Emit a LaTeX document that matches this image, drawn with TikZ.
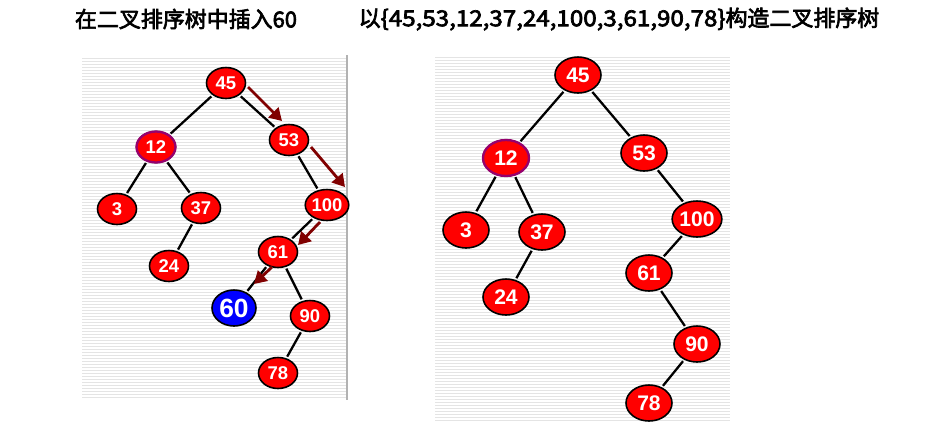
\documentclass[tikz,border=0pt]{standalone}
\usepackage{fontspec}
\setsansfont{Liberation Sans}
\newfontfamily\cjk{Noto Sans CJK SC}[FakeBold=3]
\usetikzlibrary{shapes.geometric, arrows.meta}
\definecolor{keyred}{RGB}{255,0,0}
\definecolor{keyblue}{RGB}{0,0,255}
\definecolor{rootpurple}{RGB}{150,0,110}
\definecolor{pathred}{RGB}{128,0,0}
\definecolor{stripe}{RGB}{228,228,228}
\tikzset{
  smallkey/.style={ellipse, draw=black, line width=0.9pt, fill=keyred, text=white,
    font=\sffamily\bfseries\fontsize{10.5}{10.5}\selectfont,
    minimum width=0.78cm, minimum height=0.62cm, inner sep=0pt},
  bigkey/.style={smallkey, font=\sffamily\bfseries\fontsize{12}{12}\selectfont,
    minimum width=0.92cm, minimum height=0.72cm},
  newkey/.style={smallkey, fill=keyblue, font=\sffamily\bfseries\fontsize{15}{15}\selectfont,
    minimum width=0.88cm, minimum height=0.72cm},
  rootmark/.style={draw=rootpurple, line width=1.3pt},
  treeedge/.style={draw=black, line width=1.3pt, shorten <=1pt, shorten >=1pt},
  searchpath/.style={draw=pathred, line width=1.6pt, -{Triangle[length=7pt, width=8pt]}},
  titletext/.style={font=\cjk\fontsize{12.5}{12.5}\selectfont, inner sep=0pt}
}
\begin{document}
\begin{tikzpicture}[x=0.02cm, y=-0.02cm]
  \useasboundingbox (0,0) rectangle (948,424);
  % striped backgrounds
  \foreach \y in {58,61,...,398}
    \draw[stripe, line width=0.5pt] (82,\y) -- (346,\y);
  \foreach \y in {57,60,...,421}
    \draw[stripe, line width=0.5pt] (435,\y) -- (730,\y);
  \draw[gray!60, line width=1pt] (347,55) -- (347,400);

  % titles
  \node[titletext] (lefttitle) at (186,19) {在二叉排序树中插入60};
  \node[titletext] (righttitle) at (619,19)
    {以\scalebox{1.1}[1]{\{45,53,12,37,24,100,3,61,90,78\}}构造二叉排序树};

  % left tree: insert 60
  \foreach \k/\x/\y in {45/226/83, 12/156/147, 53/289/140, 3/117/209, 37/201/208,
                        100/327/205, 24/169/266, 61/278/252, 90/310/316, 78/278/373}{
    \node[smallkey] (l\k) at (\x,\y) {\k};
  }
  \node[smallkey, rootmark] at (l12) {12};
  \node[newkey] (l60) at (234,308) {60};
  \foreach \a/\b in {45/12, 45/53, 12/3, 12/37, 37/24, 53/100, 100/61, 61/60, 61/90, 90/78}
    \draw[treeedge] (l\a) -- (l\b);

  % search path
  \coordinate (s1) at (248,87);  \coordinate (e1) at (282,121);
  \coordinate (s2) at (311,147); \coordinate (e2) at (345,187);
  \coordinate (s3) at (320,222); \coordinate (e3) at (298,245);
  \coordinate (s4) at (272,267); \coordinate (e4) at (254,284);
  \foreach \i in {1,...,4}
    \draw[searchpath] (s\i) -- (e\i);

  % right tree: built from the sequence
  \foreach \k/\x/\y in {45/578/75, 12/506/158, 53/644/153, 3/466/230, 37/542/232,
                        100/697/219, 24/506/297, 61/649/273, 90/697/344, 78/649/403}{
    \node[bigkey] (r\k) at (\x,\y) {\k};
  }
  \node[bigkey, rootmark] at (r12) {12};
  \foreach \a/\b in {45/12, 45/53, 12/3, 12/37, 37/24, 53/100, 100/61, 61/90, 90/78}
    \draw[treeedge] (r\a) -- (r\b);
\end{tikzpicture}
\end{document}
